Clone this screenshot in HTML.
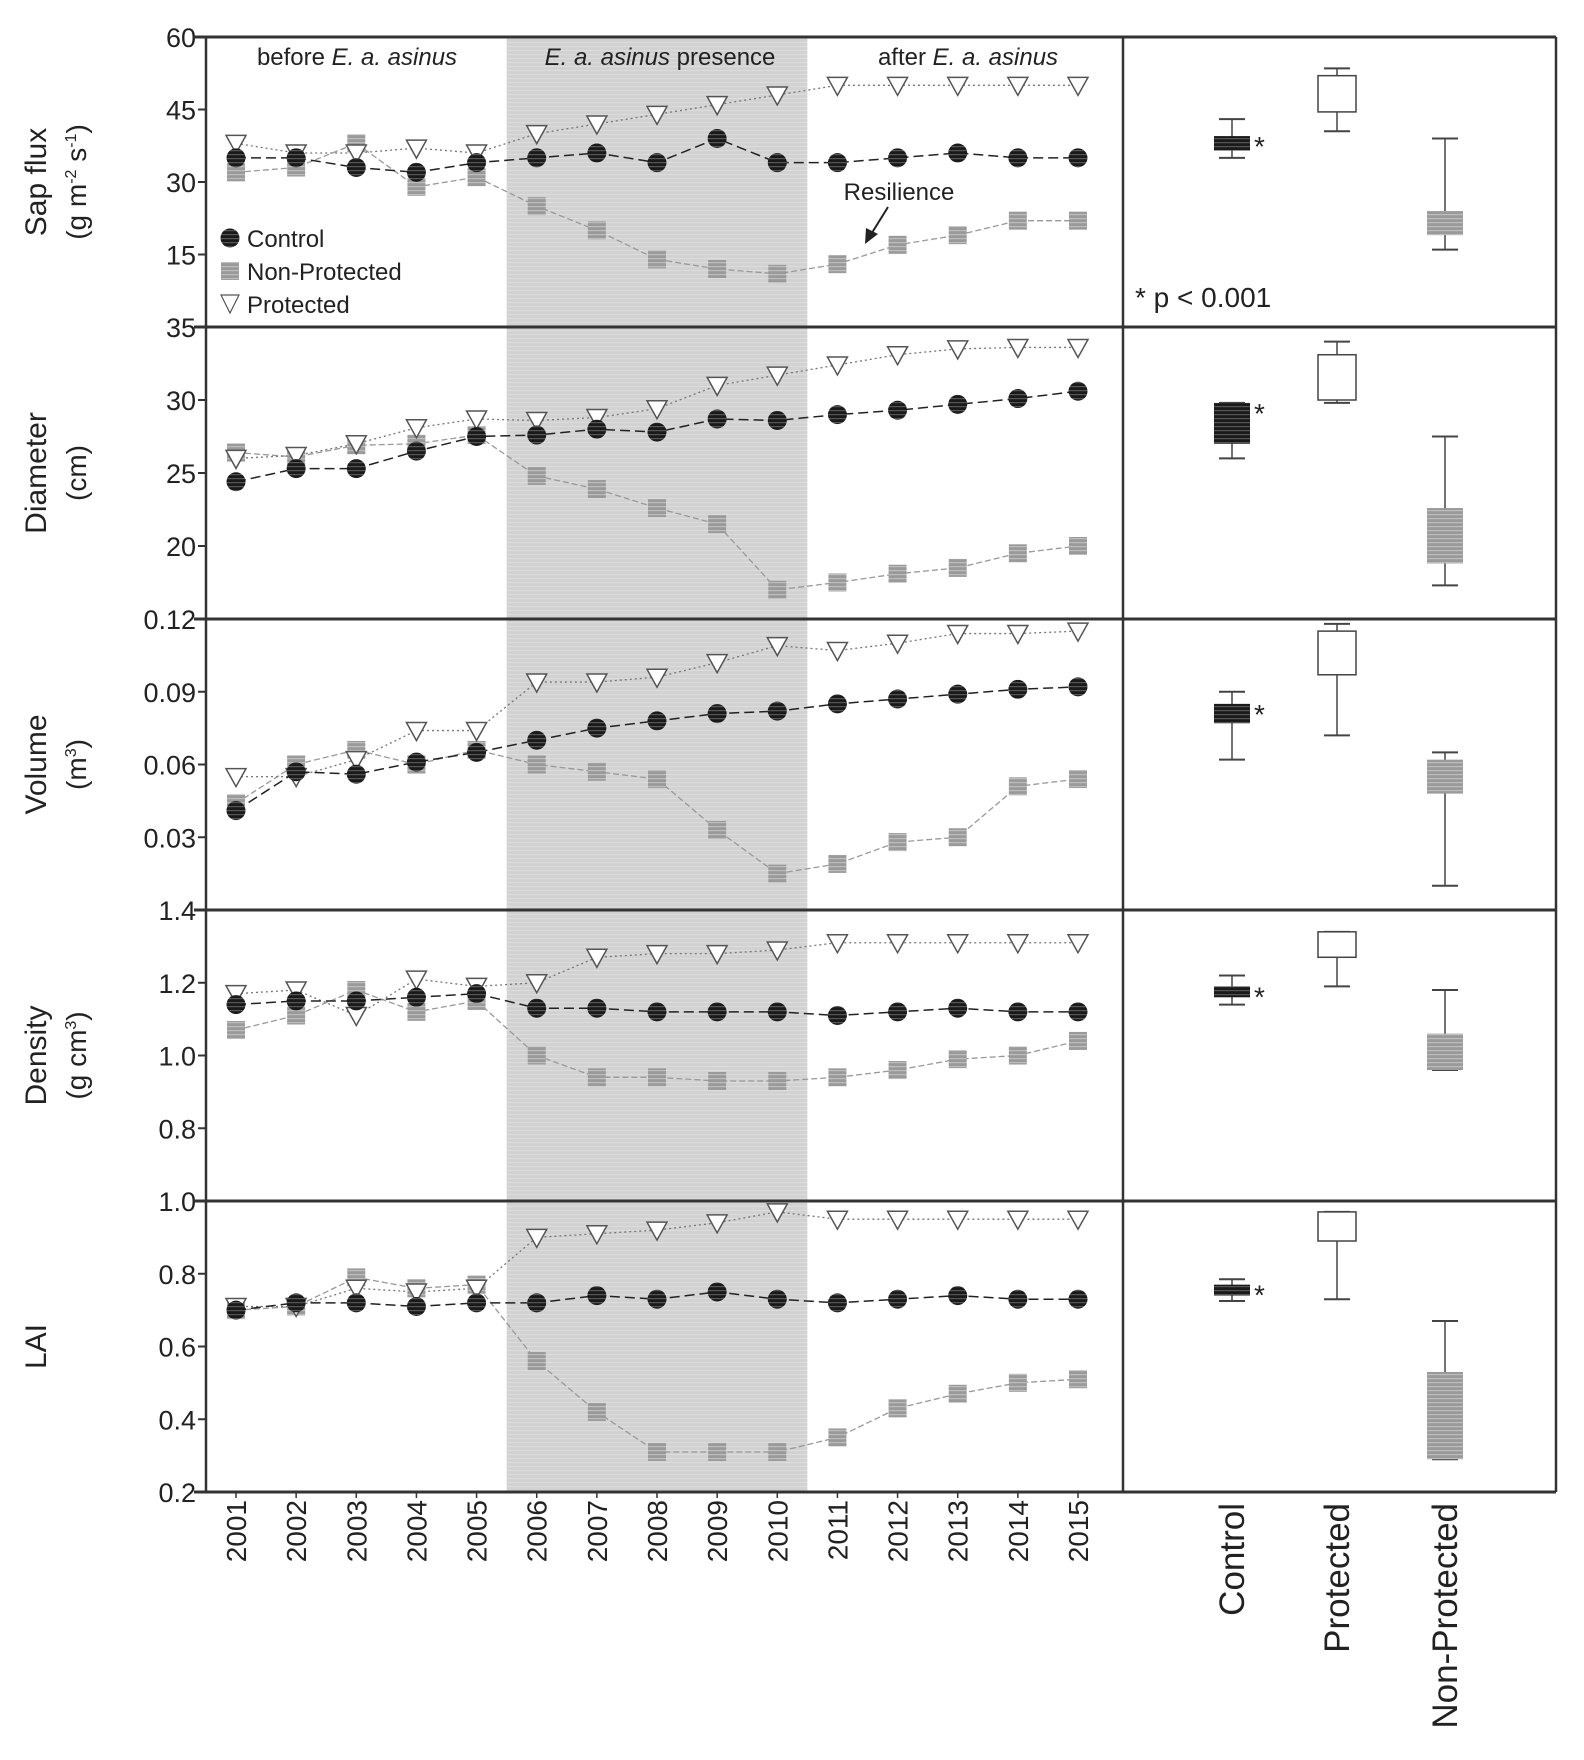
<!DOCTYPE html>
<html><head><meta charset="utf-8"><style>
html,body{margin:0;padding:0;background:#fff}
svg{display:block;font-family:"Liberation Sans",sans-serif}
</style></head><body>
<svg id="fig" width="1584" height="1760" viewBox="0 0 1584 1760" xmlns="http://www.w3.org/2000/svg">
<defs>
<pattern id="stripeDark" width="4" height="4" patternUnits="userSpaceOnUse"><rect width="4" height="4" fill="#1a1a1a"/><rect y="2" width="4" height="1.2" fill="#555"/></pattern>
<pattern id="stripeGray" width="4" height="4" patternUnits="userSpaceOnUse"><rect width="4" height="4" fill="#9a9a9a"/><rect y="2" width="4" height="1.2" fill="#bdbdbd"/></pattern>
<pattern id="stripeShade" width="4" height="4" patternUnits="userSpaceOnUse"><rect width="4" height="4" fill="#d2d2d2"/><rect y="2" width="4" height="1" fill="#dcdcdc"/></pattern>
</defs>
</svg>
<script>
const years=[2001,2002,2003,2004,2005,2006,2007,2008,2009,2010,2011,2012,2013,2014,2015];
const categories=["Control","Protected","Non-Protected"];
const sapControl=[35,35,33,32,34,35,36,34,39,34,34,35,36,35,35];
const sapNonProt=[32,33,38,29,31,25,20,14,12,11,13,17,19,22,22];
const sapProt=[38,36,36,37,36,40,42,44,46,48,50,50,50,50,50];
const diaControl=[24.4,25.3,25.3,26.5,27.5,27.6,28,27.8,28.7,28.6,29,29.3,29.7,30.1,30.6];
const diaNonProt=[26.4,26.1,26.9,27,27.6,24.8,23.9,22.6,21.5,17,17.5,18.1,18.5,19.5,20];
const diaProt=[26,26.2,27,28.1,28.7,28.6,28.8,29.4,31,31.7,32.4,33.1,33.5,33.6,33.6];
const volControl=[.041,.057,.056,.061,.065,.070,.075,.078,.081,.082,.085,.087,.089,.091,.092];
const volNonProt=[.044,.060,.066,.060,.066,.060,.057,.054,.033,.015,.019,.028,.030,.051,.054];
const volProt=[.055,.055,.062,.074,.074,.094,.094,.096,.102,.109,.107,.110,.114,.114,.115];
const denControl=[1.14,1.15,1.15,1.16,1.17,1.13,1.13,1.12,1.12,1.12,1.11,1.12,1.13,1.12,1.12];
const denNonProt=[1.07,1.11,1.18,1.12,1.15,1.0,0.94,0.94,0.93,0.93,0.94,0.96,0.99,1.0,1.04];
const denProt=[1.17,1.18,1.11,1.21,1.19,1.20,1.27,1.28,1.28,1.29,1.31,1.31,1.31,1.31,1.31];
const laiControl=[.70,.72,.72,.71,.72,.72,.74,.73,.75,.73,.72,.73,.74,.73,.73];
const laiNonProt=[.70,.71,.79,.76,.77,.56,.42,.31,.31,.31,.35,.43,.47,.50,.51];
const laiProt=[.71,.71,.76,.75,.76,.90,.91,.92,.94,.97,.95,.95,.95,.95,.95];
// box stats: [whiskerLow, q1, q3, whiskerHigh] for Control, Protected, Non-Protected
const sapBox=[[35,36.5,39.5,43],[40.5,44.5,52,53.5],[16,19,24,39]];
const diaBox=[[26,27,29.8,29.8],[29.8,30,33.1,34],[17.3,18.8,22.6,27.5]];
const volBox=[[.062,.077,.085,.090],[.072,.097,.115,.118],[.010,.048,.062,.065]];
const denBox=[[1.14,1.16,1.19,1.22],[1.19,1.27,1.34,1.34],[0.96,0.96,1.06,1.18]];
const laiBox=[[.725,.74,.77,.785],[.73,.89,.97,.97],[.29,.29,.53,.67]];
const sapTicks=["60","45","30","15"], diaTicks=["35","30","25","20"], volTicks=["0.12","0.09","0.06","0.03"], denTicks=["1.4","1.2","1.0","0.8"], laiTicks=["1.0","0.8","0.6","0.4","0.2"];

const svg=document.getElementById('fig');
const NS="http://www.w3.org/2000/svg";
function mk(tag,attrs,parent){const e=document.createElementNS(NS,tag);for(const k in attrs)e.setAttribute(k,attrs[k]);(parent||svg).appendChild(e);return e;}
const L=206,D=1123,R=1556;
const tops=[37,327,619,910,1201],BOT=1492;
const x=i=>236+i*(1078-236)/14;
const cx=[1232,1337,1445];

const sh=mk('rect',{x:x(4.5),y:37,width:x(9.5)-x(4.5),height:BOT-37,fill:'url(#stripeShade)'});



const panels=[
 {name:'sap-flux',min:0,max:60,ticks:sapTicks,tv:[60,45,30,15],c:sapControl,n:sapNonProt,p:sapProt,box:sapBox,t1:'Sap flux',t2:'(g m<tspan font-size="16" dy="-10">-2</tspan><tspan dy="10"> s</tspan><tspan font-size="16" dy="-10">-1</tspan><tspan dy="10">)</tspan>'},
 {name:'diameter',min:15,max:35,ticks:diaTicks,tv:[35,30,25,20],c:diaControl,n:diaNonProt,p:diaProt,box:diaBox,t1:'Diameter',t2:'(cm)'},
 {name:'volume',min:0,max:0.12,ticks:volTicks,tv:[.12,.09,.06,.03],c:volControl,n:volNonProt,p:volProt,box:volBox,t1:'Volume',t2:'(m<tspan font-size="16" dy="-10">3</tspan><tspan dy="10">)</tspan>'},
 {name:'density',min:0.6,max:1.4,ticks:denTicks,tv:[1.4,1.2,1.0,0.8],c:denControl,n:denNonProt,p:denProt,box:denBox,t1:'Density',t2:'(g cm<tspan font-size="16" dy="-10">3</tspan><tspan dy="10">)</tspan>'},
 {name:'lai',min:0.2,max:1.0,ticks:laiTicks,tv:[1.0,0.8,0.6,0.4,0.2],c:laiControl,n:laiNonProt,p:laiProt,box:laiBox,t1:'LAI',t2:null}
];

panels.forEach((P,pi)=>{
 const top=tops[pi],bot=pi<4?tops[pi+1]:BOT;
 const y=v=>bot-(v-P.min)/(P.max-P.min)*(bot-top);
 const g=mk('g',{});
 
 
 P.tv.forEach((v,i)=>{
  mk('line',{x1:L-8,x2:L,y1:y(v),y2:y(v),stroke:'#333','stroke-width':2},g);
  const t=mk('text',{x:L-10,y:y(v)+10,'text-anchor':'end','font-size':27,fill:'#222'},g);
  t.textContent=P.ticks[i];
  
  
 });
 const tx=P.t2?46:46;
 const yc=(top+bot)/2;
 const at=mk('text',{transform:`translate(${tx},${yc}) rotate(-90)`,'text-anchor':'middle','font-size':30,fill:'#222'},g);
 at.textContent=P.t1;
 
 
 if(P.t2){const a2=mk('text',{transform:`translate(86,${yc}) rotate(-90)`,'text-anchor':'middle','font-size':28,fill:'#222'},g);a2.innerHTML=P.t2;
  
  }
 const series=[
  {d:P.n,stroke:'#999',dash:'6 3',w:1.3,name:'non-protected'},
  {d:P.p,stroke:'#777',dash:'2 3',w:1.3,name:'protected'},
  {d:P.c,stroke:'#222',dash:'10 5',w:1.5,name:'control'}];
 series.forEach(s=>{
  const pts=s.d.map((v,i)=>x(i)+','+y(v)).join(' ');
  const pl=mk('polyline',{points:pts,fill:'none',stroke:s.stroke,'stroke-width':s.w,'stroke-dasharray':s.dash},g);
  
  
 });
 P.n.forEach((v,i)=>{const r=mk('rect',{x:x(i)-9,y:y(v)-9,width:18,height:18,fill:'url(#stripeGray)'},g);
  
  });
 P.p.forEach((v,i)=>{const yy=y(v);const t=mk('polygon',{points:`${x(i)-10},${yy-8} ${x(i)+10},${yy-8} ${x(i)},${yy+10}`,fill:'#fff',stroke:'#555','stroke-width':1.5},g);
  
  });
 P.c.forEach((v,i)=>{const c=mk('circle',{cx:x(i),cy:y(v),r:9.5,fill:'url(#stripeDark)'},g);
  
  });
 const fills=['url(#stripeDark)','#fff','url(#stripeGray)'];
 P.box.forEach((b,k)=>{
  const bg=mk('g',{},g);
  
  
  const w=k==1?38:36,c=cx[k];
  mk('line',{x1:c,x2:c,y1:y(b[0]),y2:y(b[3]),stroke:'#444','stroke-width':1.5},bg);
  mk('line',{x1:c-13,x2:c+13,y1:y(b[0]),y2:y(b[0]),stroke:'#444','stroke-width':2},bg);
  mk('line',{x1:c-13,x2:c+13,y1:y(b[3]),y2:y(b[3]),stroke:'#444','stroke-width':2},bg);
  mk('rect',{x:c-w/2,y:y(b[2]),width:w,height:Math.max(2,y(b[1])-y(b[2])),fill:fills[k],stroke:k==1?'#444':'none','stroke-width':1.5},bg);
  if(k==0){const s=mk('text',{x:c+w/2+4,y:y(b[2])+20,'font-size':28,fill:'#222'},bg);s.textContent='*';}
 });
 mk('line',{x1:L-12,x2:R,y1:top,y2:top,stroke:'#333','stroke-width':3},g);
});
mk('line',{x1:L-12,x2:R,y1:BOT,y2:BOT,stroke:'#333','stroke-width':3});
mk('line',{x1:L,x2:L,y1:37,y2:BOT,stroke:'#333','stroke-width':2.5});
mk('line',{x1:D,x2:D,y1:37,y2:BOT,stroke:'#333','stroke-width':2.5});
mk('line',{x1:R,x2:R,y1:37,y2:BOT,stroke:'#333','stroke-width':2.5});

function txt(s,attrs,name){const t=mk('text',attrs);t.innerHTML=s;return t;}
txt('before <tspan font-style="italic">E. a. asinus</tspan>',{x:357,y:65,'text-anchor':'middle','font-size':24,fill:'#222'},'period-label-before');
txt('<tspan font-style="italic">E. a. asinus</tspan> presence',{x:660,y:65,'text-anchor':'middle','font-size':24,fill:'#222'},'period-label-presence');
txt('after <tspan font-style="italic">E. a. asinus</tspan>',{x:968,y:65,'text-anchor':'middle','font-size':24,fill:'#222'},'period-label-after');
txt('Resilience',{x:899,y:200,'text-anchor':'middle','font-size':24,fill:'#222'},'resilience-annotation');
mk('line',{x1:888,y1:207,x2:870,y2:236,stroke:'#222','stroke-width':2});
mk('polygon',{points:'865,244 866,228 878,234',fill:'#222'});
txt('* p &lt; 0.001',{x:1135,y:307,'font-size':28,fill:'#222'},'significance-note');

const lg=mk('g',{});


mk('circle',{cx:230,cy:238,r:9.5,fill:'url(#stripeDark)'},lg);
mk('rect',{x:221,y:262,width:18,height:18,fill:'url(#stripeGray)'},lg);
mk('polygon',{points:'221,295 239,295 230,313',fill:'#fff',stroke:'#555','stroke-width':1.2},lg);
[['Control',247],['Non-Protected',280],['Protected',313]].forEach(([s,yy])=>{const t=mk('text',{x:247,y:yy,'font-size':24,fill:'#222'},lg);t.textContent=s;
 
 });

years.forEach((yr,i)=>{const t=mk('text',{transform:`translate(${x(i)+10},1500) rotate(-90)`,'text-anchor':'end','font-size':28,fill:'#222'});t.textContent=yr;
 
 
 mk('line',{x1:x(i),x2:x(i),y1:BOT,y2:BOT+6,stroke:'#333','stroke-width':1.5});});
categories.forEach((c,k)=>{const t=mk('text',{transform:`translate(${cx[k]+12},1503) rotate(-90)`,'text-anchor':'end','font-size':35,fill:'#222'});t.textContent=c;
 
 });
</script>
</body></html>
